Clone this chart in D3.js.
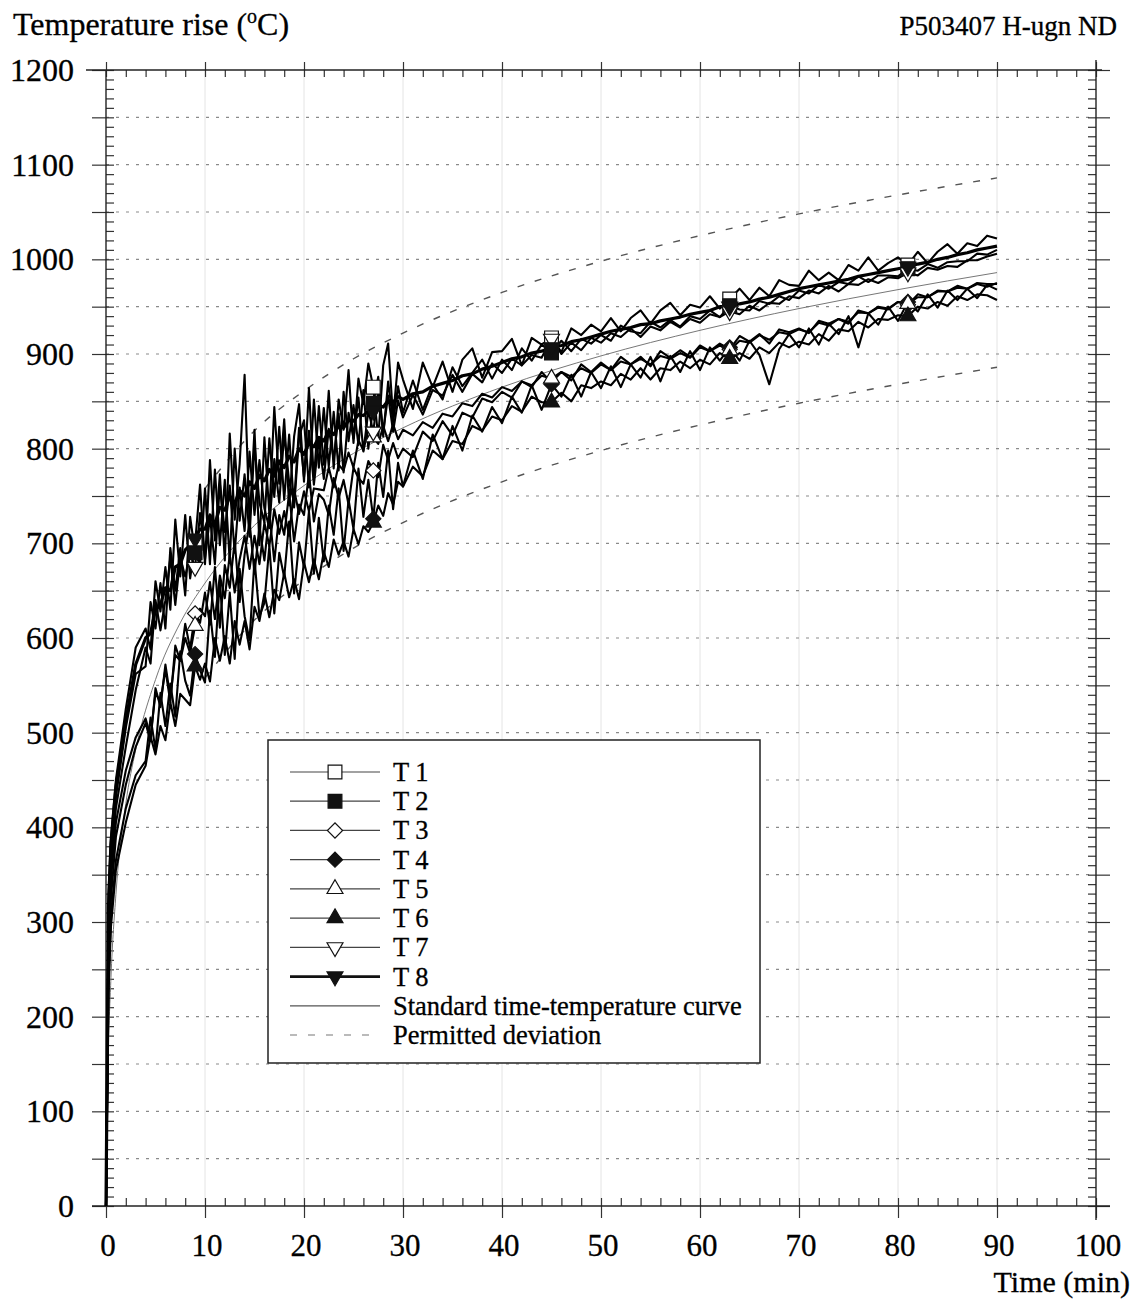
<!DOCTYPE html>
<html>
<head>
<meta charset="utf-8">
<script src="https://cdn.jsdelivr.net/npm/d3@7"></script>
<style>
  body { margin: 0; background: #fff; }
  svg { font-family: "Liberation Serif", "Times New Roman", serif; }
  text { fill: #000; stroke: #000; stroke-width: 0.3; }
</style>
</head>
<body>
<svg id="chart" width="1138" height="1300"></svg>
<script>
// sample times (min): half-minute steps while the furnace is settling
const minutes = [0, 0.25, 0.5, 1, 2, 3].concat(d3.range(4, 30, 0.5), d3.range(30, 91, 1))

// thermocouple readings (°C rise)
const T1 = [0, 330, 390, 450, 525, 590,
  610, 588, 660, 628, 675, 630, 725, 665, 730, 663, 700, 762,
  678, 788, 703, 773, 682, 816, 725, 784, 878, 722, 820, 698,
  812, 731, 844, 763, 831, 740, 813, 847, 765, 864, 767, 845,
  783, 861, 779, 852, 820, 883, 806, 874, 847, 890, 865, 811, 888, 911, 833, 891,
  873, 842, 891, 865, 892, 860, 894, 906, 875, 902,
  903, 916, 888, 917, 910, 917, 902, 927, 920, 931,
  924, 938, 924, 938, 946, 932, 946, 954, 941, 952,
  949, 961, 948, 958, 969, 957, 970, 961, 978, 973,
  972, 988, 978, 986, 978, 994, 988, 1002, 988, 996,
  1002, 994, 1008, 996, 1008, 1016, 1006, 1017, 1014, 1025, 1022]
const T2 = [0, 305, 372, 432, 505, 562,
  570, 638, 610, 658, 610, 695, 650, 695, 645, 728, 690, 677,
  758, 678, 778, 698, 767, 681, 800, 724, 773, 707, 805, 743,
  722, 811, 749, 823, 746, 815, 738, 812, 830, 759, 852, 780,
  843, 781, 839, 777, 860, 808, 846, 804, 862, 800, 848, 876, 813, 871, 828, 866,
  838, 872, 841, 868, 852, 886, 866, 880, 894, 874,
  894, 883, 906, 893, 910, 901, 914, 903, 916, 911,
  920, 914, 930, 924, 922, 934, 928, 936, 929, 940,
  937, 946, 939, 951, 947, 946, 956, 953, 961, 957,
  967, 964, 973, 969, 976, 974, 982, 976, 983, 983,
  982, 990, 988, 995, 991, 997, 998, 998, 1006, 1005, 1010]
const T3 = [0, 255, 325, 390, 445, 485,
  510, 491, 547, 527, 572, 537, 582, 576, 615, 589, 626, 616,
  648, 614, 675, 611, 677, 653, 703, 638, 688, 723, 668, 718,
  682, 732, 681, 730, 709, 753, 702, 741, 730, 774, 723, 752,
  746, 730, 769, 748, 767, 741, 780, 769, 763, 787, 777, 770, 804, 788, 806, 790,
  800, 791, 818, 808, 829, 814, 838, 833, 853, 849,
  860, 854, 871, 865, 881, 870, 881, 872, 889, 881,
  891, 883, 897, 889, 897, 887, 903, 896, 904, 897,
  909, 903, 911, 905, 919, 913, 921, 911, 926, 923,
  927, 922, 935, 932, 937, 932, 946, 943, 950, 948,
  955, 952, 963, 960, 966, 966, 972, 969, 975, 974, 974]
const T4 = [0, 235, 305, 365, 420, 455,
  470, 516, 482, 542, 507, 552, 517, 586, 555, 539, 583, 566,
  553, 629, 580, 661, 582, 648, 578, 673, 623, 598, 683, 623,
  637, 697, 626, 690, 664, 723, 647, 701, 675, 734, 668, 727,
  681, 740, 709, 758, 692, 746, 715, 779, 728, 767, 726, 785, 749, 798, 736, 785,
  760, 798, 768, 815, 789, 824, 798, 835, 818, 844,
  827, 855, 838, 867, 841, 868, 855, 878, 855, 881,
  864, 887, 865, 889, 875, 897, 871, 898, 881, 903,
  883, 907, 893, 907, 893, 914, 899, 868, 905, 921,
  907, 927, 910, 932, 921, 940, 907, 943, 931, 950,
  935, 955, 945, 963, 949, 967, 957, 969, 959, 973, 968]
const T5 = [0, 265, 345, 405, 460, 495,
  515, 496, 542, 532, 567, 532, 592, 576, 600, 584, 613, 631,
  623, 659, 620, 666, 642, 688, 648, 683, 708, 673, 708, 678,
  722, 697, 736, 710, 734, 708, 757, 731, 755, 734, 758, 757,
  756, 780, 759, 783, 777, 796, 780, 809, 798, 822, 812, 805, 824, 808, 826, 810,
  820, 814, 828, 822, 837, 834, 848, 845, 858, 854,
  865, 861, 871, 867, 877, 874, 881, 876, 885, 880,
  889, 883, 892, 889, 895, 889, 898, 895, 901, 896,
  907, 903, 909, 904, 914, 912, 920, 915, 923, 921,
  926, 923, 933, 930, 937, 934, 944, 943, 949, 947,
  955, 953, 960, 960, 967, 966, 970, 969, 974, 971, 975]
const T6 = [0, 225, 295, 355, 405, 445,
  465, 496, 477, 507, 492, 532, 507, 541, 535, 529, 570, 556,
  573, 554, 600, 576, 602, 573, 618, 593, 618, 588, 633, 618,
  647, 622, 651, 640, 669, 643, 662, 641, 680, 659, 683, 662,
  691, 675, 704, 688, 702, 686, 715, 699, 718, 712, 722, 740, 729, 753, 741, 765,
  760, 781, 771, 798, 789, 808, 805, 824, 819, 834,
  830, 845, 839, 855, 849, 849, 859, 850, 867, 864,
  871, 867, 879, 873, 885, 873, 885, 883, 892, 885,
  894, 889, 901, 895, 901, 895, 907, 901, 912, 907,
  913, 910, 921, 914, 926, 924, 934, 928, 937, 936,
  941, 940, 950, 948, 955, 951, 961, 957, 963, 962, 957]
const T7 = [0, 285, 355, 420, 485, 545,
  590, 573, 640, 608, 640, 685, 635, 685, 665, 688, 675, 732,
  683, 728, 678, 763, 712, 761, 690, 759, 713, 797, 730, 788,
  737, 716, 789, 743, 816, 765, 743, 822, 770, 819, 762, 810,
  768, 821, 789, 837, 775, 838, 811, 854, 797, 840, 818, 861, 818, 856, 818, 851,
  833, 857, 836, 862, 856, 878, 860, 879, 870, 890,
  880, 895, 888, 899, 896, 916, 900, 912, 904, 917,
  912, 922, 918, 927, 918, 929, 925, 934, 928, 937,
  933, 942, 939, 945, 942, 951, 946, 954, 953, 961,
  959, 967, 964, 972, 966, 974, 973, 979, 975, 981,
  980, 986, 983, 991, 989, 993, 992, 999, 999, 1003, 1006]
const T8 = [0, 315, 382, 442, 512, 572,
  600, 605, 630, 635, 653, 650, 675, 678, 693, 698, 705, 715,
  715, 730, 720, 738, 735, 750, 742, 756, 750, 765, 758, 772,
  766, 778, 771, 787, 780, 792, 786, 800, 794, 806, 802, 812,
  808, 819, 815, 824, 822, 830, 829, 836, 835, 840, 840, 846, 844, 851, 849, 855,
  852, 858, 860, 866, 869, 872, 877, 879, 884, 887,
  891, 895, 897, 901, 903, 907, 909, 913, 915, 918,
  921, 924, 926, 928, 931, 932, 935, 937, 939, 942,
  944, 946, 950, 950, 953, 955, 958, 960, 963, 966,
  969, 971, 973, 975, 977, 979, 982, 984, 986, 988,
  990, 992, 995, 997, 1000, 1002, 1005, 1007, 1010, 1012, 1014]

const seriesNames = ["T 1", "T 2", "T 3", "T 4", "T 5", "T 6", "T 7", "T 8"]
const seriesValues = [T1, T2, T3, T4, T5, T6, T7, T8]
const markerTimes = [9, 27, 45, 63, 81]

// standard time-temperature curve and permitted deviation
const stdTimes = [0, 0.25, 0.5, 1, 2, 3, 5, 7.5, 10, 15, 20, 25, 30, 40, 50, 60, 70, 80, 90]
const stdValues = [0, 165, 241, 329, 425, 482, 556, 616, 658, 719, 761, 795, 822, 865, 898, 925, 948, 968, 986]
const devTimes = [10, 15, 20, 25, 30, 40, 50, 60, 70, 80, 90]
const devUpper = [758, 819, 861, 895, 922, 965, 998, 1025, 1048, 1068, 1086]
const devLower = [558, 619, 661, 695, 722, 765, 798, 825, 848, 868, 886]

const xTicks = d3.range(0, 101, 10)
const yTicks = d3.range(0, 1201, 100)

const svg = d3.select("#chart")
const x = d3.scaleLinear().domain([0, 100]).range([106, 1096])
const y = d3.scaleLinear().domain([0, 1200]).range([1206, 70])
const [x0, x1] = x.range()
const [y0, y1] = y.range()

// grid
svg.append("g").selectAll("line")
  .data(d3.range(10, 100, 10)).enter().append("line")
  .attr("x1", d => x(d)).attr("x2", d => x(d))
  .attr("y1", y1).attr("y2", y0)
  .attr("stroke", "#e4e4e4").attr("stroke-width", 1)

svg.append("g").selectAll("line")
  .data(d3.range(50, 1200, 50)).enter().append("line")
  .attr("x1", x0).attr("x2", x1)
  .attr("y1", d => y(d)).attr("y2", d => y(d))
  .attr("stroke", "#8a8a8a").attr("stroke-width", 1.2)
  .attr("stroke-dasharray", "3,7")

// axes: major and minor ticks on all four sides
function styleAxis(g) {
  g.select(".domain").remove()
  g.selectAll(".tick line").attr("stroke", "#333").attr("stroke-width", 1.2)
  g.selectAll("text").remove()
}
svg.append("g").attr("transform", `translate(${x0},0)`)
  .call(d3.axisLeft(y).tickValues(d3.range(0, 1201, 50)).tickSizeInner(14).tickSizeOuter(0))
  .call(styleAxis)
svg.append("g").attr("transform", `translate(${x0},0)`)
  .call(d3.axisRight(y).tickValues(d3.range(0, 1201, 10)).tickSizeInner(8).tickSizeOuter(0))
  .call(styleAxis)
svg.append("g").attr("transform", `translate(${x1},0)`)
  .call(d3.axisRight(y).tickValues(d3.range(0, 1201, 50)).tickSizeInner(14).tickSizeOuter(0))
  .call(styleAxis)
svg.append("g").attr("transform", `translate(${x1},0)`)
  .call(d3.axisLeft(y).tickValues(d3.range(0, 1201, 10)).tickSizeInner(8).tickSizeOuter(0))
  .call(styleAxis)
svg.append("g").attr("transform", `translate(0,${y0})`)
  .call(d3.axisTop(x).tickValues(d3.range(0, 101, 2)).tickSizeInner(8).tickSizeOuter(0))
  .call(styleAxis)
svg.append("g").attr("transform", `translate(0,${y0})`)
  .call(d3.axisBottom(x).tickValues(xTicks).tickSizeInner(12).tickSizeOuter(0))
  .call(styleAxis)
svg.append("g").attr("transform", `translate(0,${y1})`)
  .call(d3.axisBottom(x).tickValues(d3.range(0, 101, 2)).tickSizeInner(7).tickSizeOuter(0))
  .call(styleAxis)
svg.append("g").attr("transform", `translate(0,${y1})`)
  .call(d3.axisTop(x).tickValues(xTicks).tickSizeInner(8).tickSizeOuter(0))
  .call(styleAxis)

// frame
const frame = svg.append("g").attr("stroke", "#222").attr("stroke-width", 1.4)
frame.append("line").attr("x1", x0 - 20).attr("x2", x1 + 6).attr("y1", y1).attr("y2", y1)
frame.append("line").attr("x1", x0 - 14).attr("x2", x1 + 14).attr("y1", y0).attr("y2", y0)
frame.append("line").attr("x1", x0).attr("x2", x0).attr("y1", y1).attr("y2", y0)
frame.append("line").attr("x1", x1).attr("x2", x1).attr("y1", y1 - 10).attr("y2", y0 + 14)

// tick labels
svg.append("g").selectAll("text")
  .data(yTicks).enter().append("text")
  .attr("x", 74).attr("y", d => y(d) + 11)
  .attr("text-anchor", "end").attr("font-size", 32)
  .text(d => d)
svg.append("g").selectAll("text")
  .data(xTicks).enter().append("text")
  .attr("x", d => x(d) + 2).attr("y", 1256)
  .attr("text-anchor", "middle").attr("font-size", 31)
  .text(d => d)

svg.append("text").attr("x", 1130).attr("y", 1292)
  .attr("text-anchor", "end").attr("font-size", 30)
  .text("Time (min)")

const title = svg.append("text").attr("x", 13).attr("y", 35)
  .attr("font-size", 32)
title.append("tspan").text("Temperature rise (")
title.append("tspan").attr("font-size", 20).attr("dy", -12).text("o")
title.append("tspan").attr("dy", 12).text("C)")

svg.append("text").attr("x", 1117).attr("y", 35)
  .attr("text-anchor", "end").attr("font-size", 27)
  .text("P503407 H-ugn ND")

// reference curves
const curveLine = d3.line()
  .x(d => x(d[0])).y(d => y(d[1]))
  .curve(d3.curveMonotoneX)

svg.append("path")
  .datum(devTimes.map((t, i) => [t, devUpper[i]]))
  .attr("d", curveLine).attr("fill", "none")
  .attr("stroke", "#555").attr("stroke-width", 1.4).attr("stroke-dasharray", "7,11")
svg.append("path")
  .datum(devTimes.map((t, i) => [t, devLower[i]]))
  .attr("d", curveLine).attr("fill", "none")
  .attr("stroke", "#555").attr("stroke-width", 1.4).attr("stroke-dasharray", "7,11")
svg.append("path")
  .datum(stdTimes.map((t, i) => [t, stdValues[i]]))
  .attr("d", curveLine).attr("fill", "none")
  .attr("stroke", "#777").attr("stroke-width", 1)

// thermocouple lines
const dataLine = d3.line()
  .defined(d => d[1] != null)
  .x(d => x(d[0])).y(d => y(d[1]))

seriesValues.forEach((vals, i) => {
  svg.append("path")
    .datum(minutes.map((t, j) => [t, vals[j]]))
    .attr("d", dataLine).attr("fill", "none")
    .attr("stroke", "#000")
    .attr("stroke-width", i === 7 ? 3.2 : 2.1)
    .attr("stroke-linejoin", "round")
})

// markers
const markerStyles = [
  { type: d3.symbolSquare, size: 190, rotate: 0, filled: false },
  { type: d3.symbolSquare, size: 190, rotate: 0, filled: true },
  { type: d3.symbolSquare, size: 115, rotate: 45, filled: false },
  { type: d3.symbolSquare, size: 115, rotate: 45, filled: true },
  { type: d3.symbolTriangle, size: 110, rotate: 0, filled: false },
  { type: d3.symbolTriangle, size: 110, rotate: 0, filled: true },
  { type: d3.symbolTriangle, size: 110, rotate: 180, filled: false },
  { type: d3.symbolTriangle, size: 110, rotate: 180, filled: true }
]

function drawMarker(g, i, cx, cy) {
  const s = markerStyles[i]
  g.append("path")
    .attr("d", d3.symbol().type(s.type).size(s.size)())
    .attr("transform", `translate(${cx},${cy}) rotate(${s.rotate})`)
    .attr("fill", s.filled ? "#111" : "#fff")
    .attr("stroke", "#111").attr("stroke-width", 1.2)
}

const markerLayer = svg.append("g")
seriesValues.forEach((vals, i) => {
  markerTimes.forEach(t => {
    const j = minutes.indexOf(t)
    drawMarker(markerLayer, i, x(t), y(vals[j]))
  })
})

// legend
const legend = svg.append("g")
legend.append("rect")
  .attr("x", 268).attr("y", 740).attr("width", 492).attr("height", 323)
  .attr("fill", "#fff").attr("stroke", "#222").attr("stroke-width", 1.5)

const legendRow = d3.scaleLinear().domain([0, 9]).range([772, 1035])
const legendLabels = seriesNames.concat(["Standard time-temperature curve", "Permitted deviation"])

legendLabels.forEach((label, i) => {
  const ly = legendRow(i)
  const ln = legend.append("line")
    .attr("x1", 290).attr("x2", 380).attr("y1", ly).attr("y2", ly)
  if (i < 7) ln.attr("stroke", "#444").attr("stroke-width", 1.2)
  else if (i === 7) ln.attr("stroke", "#111").attr("stroke-width", 2.8)
  else if (i === 8) ln.attr("stroke", "#555").attr("stroke-width", 1.2)
  else ln.attr("stroke", "#777").attr("stroke-width", 1.2).attr("stroke-dasharray", "7,11")
  if (i < 8) drawMarker(legend, i, 335, ly)
  legend.append("text")
    .attr("x", 393).attr("y", ly + 9)
    .attr("font-size", 26.5)
    .text(label)
})
</script>
</body>
</html>
